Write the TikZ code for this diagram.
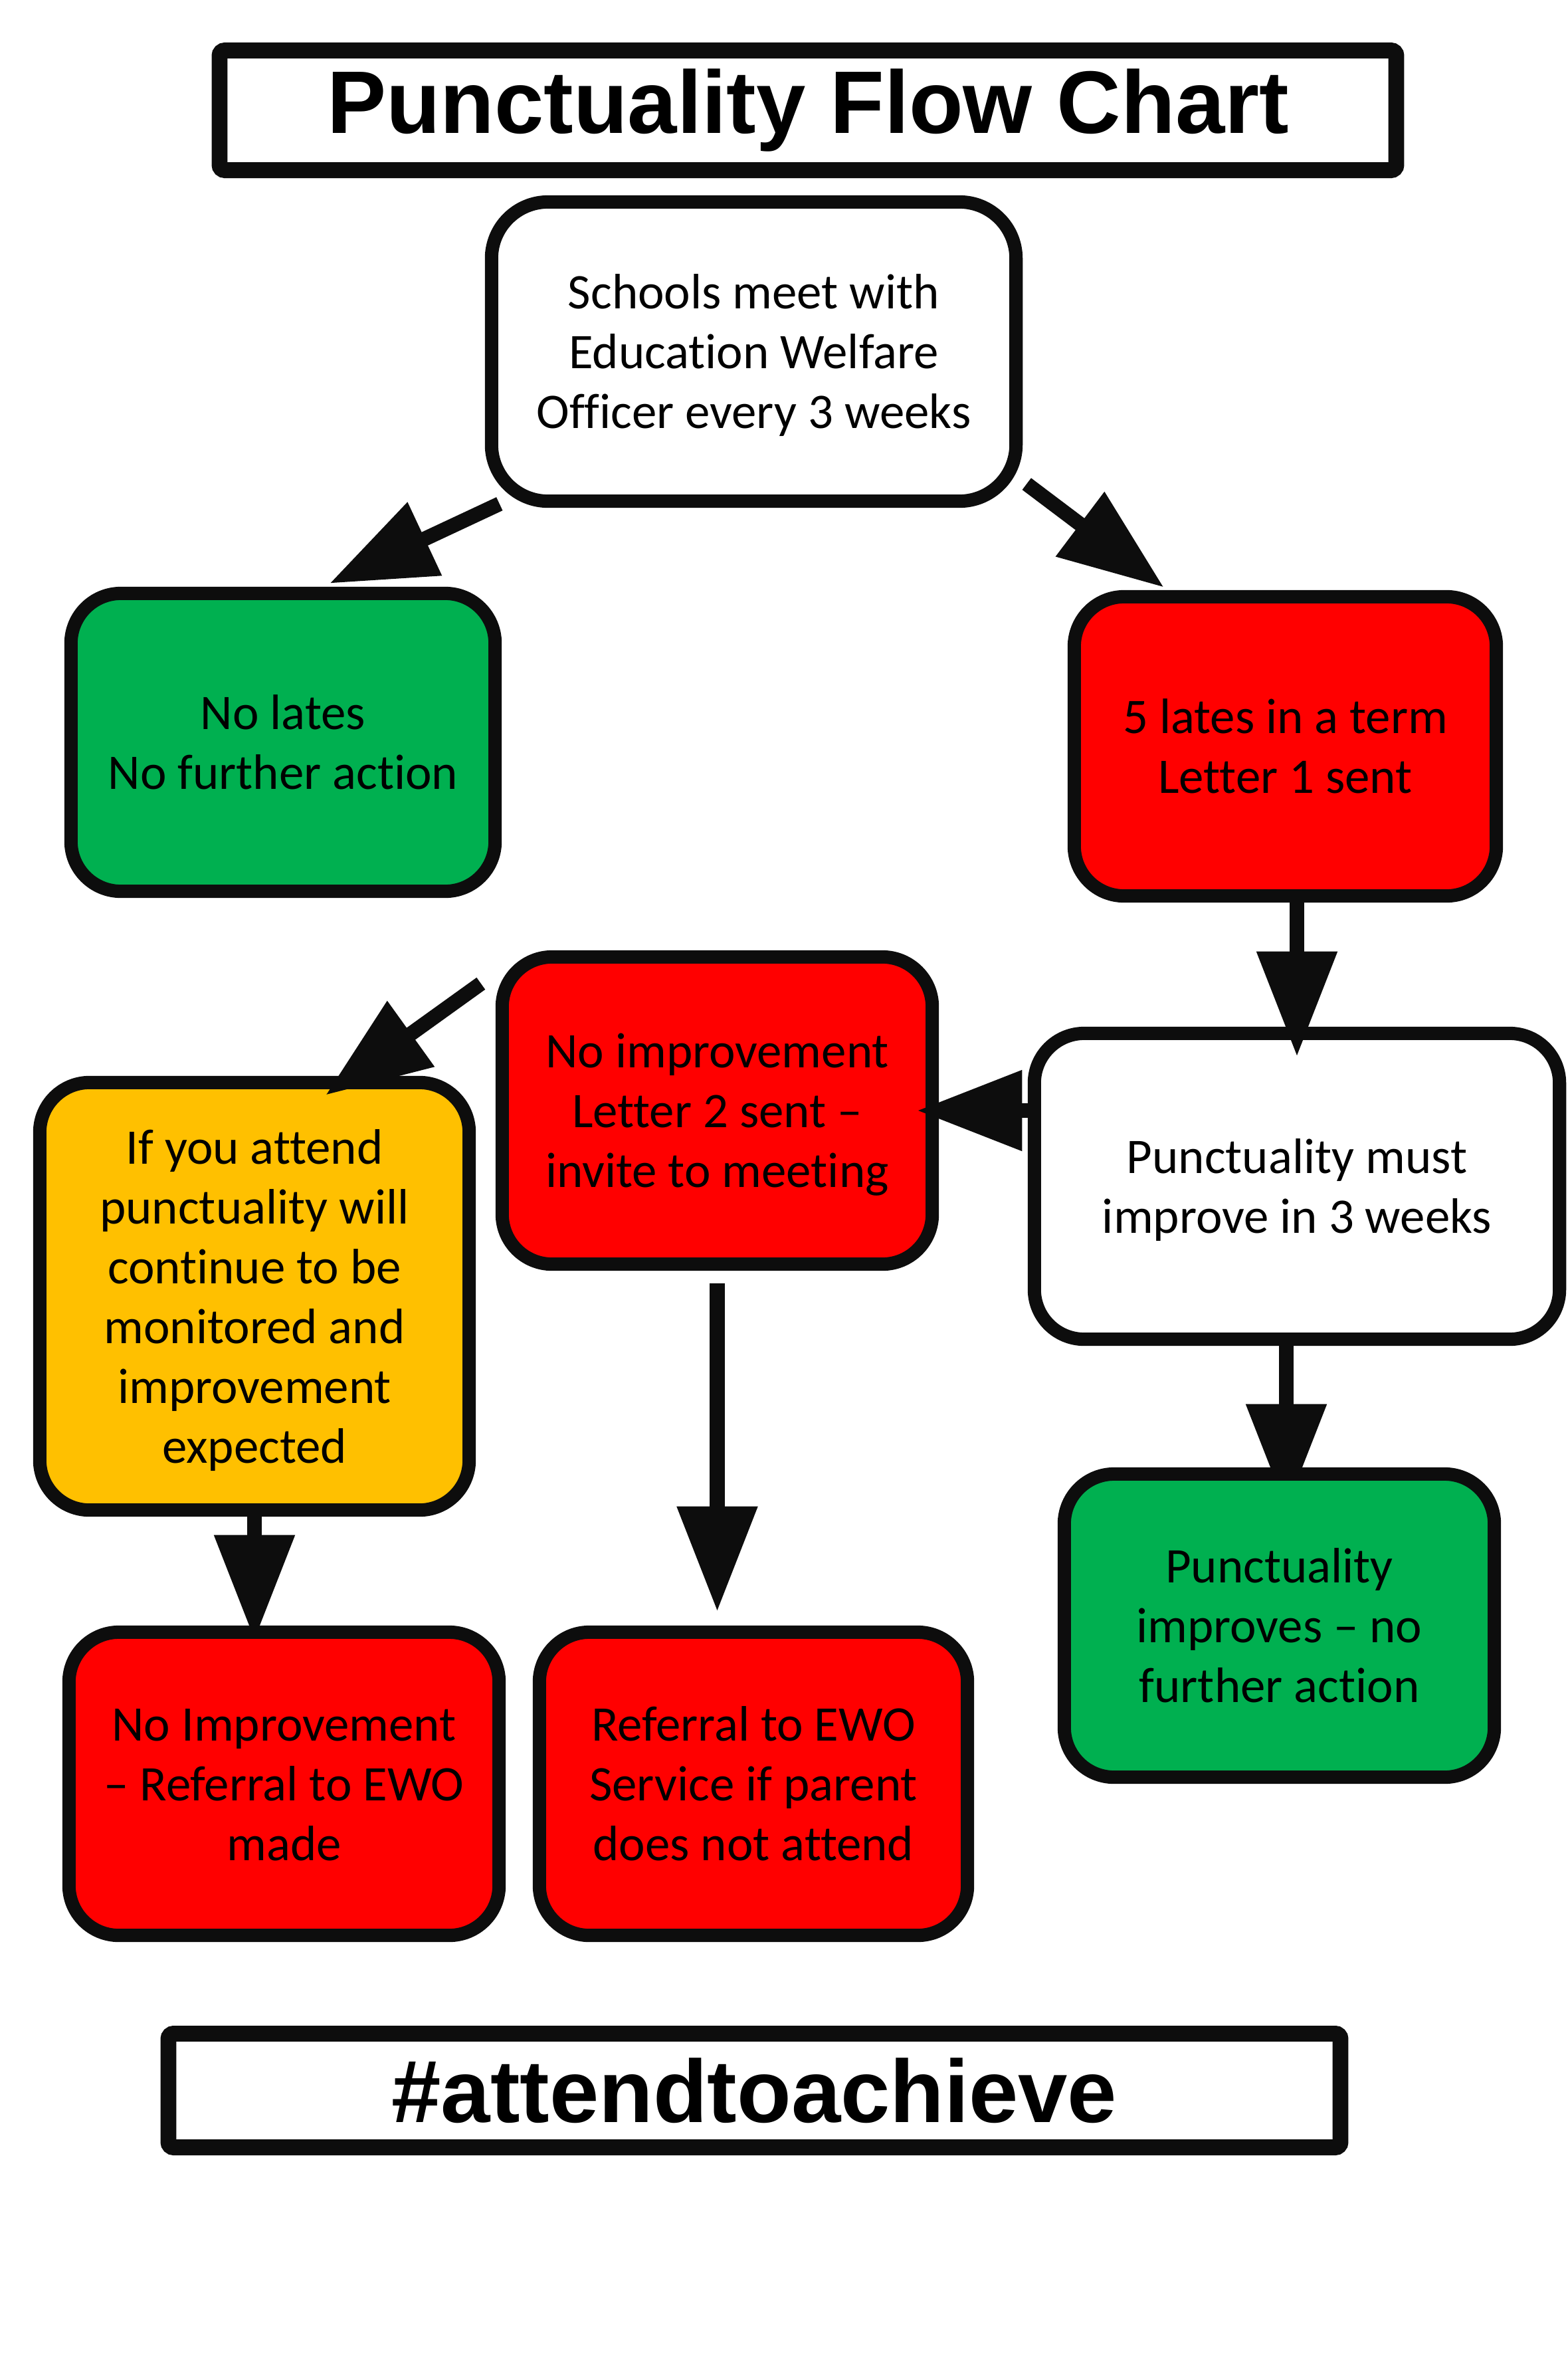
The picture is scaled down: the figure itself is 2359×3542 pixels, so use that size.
\documentclass[tikz,border=0pt]{standalone}
\usepackage{fontspec}
\setmainfont{Carlito}[Ligatures=NoCommon]
\newfontfamily\arialfont{Liberation Sans}
\usetikzlibrary{arrows.meta,calc,backgrounds}
\definecolor{bord}{HTML}{0D0D0D}
\definecolor{rd}{HTML}{FF0000}
\definecolor{gn}{HTML}{00B050}
\definecolor{yl}{HTML}{FFC000}
\newcommand\boxtxt[1]{\raisebox{-2.2pt}[\height][\depth]{\begin{tabular}{@{}c@{}}#1\end{tabular}}}
\tikzset{
  box/.style={draw=bord, line width=5.7pt, rounded corners=0.75cm, inner sep=0pt,
    outer sep=0pt, font=\fontsize{21.3}{25.6}\selectfont, text=black},
  hdr/.style={draw=bord, fill=white, line width=6.8pt, rounded corners=0.08cm, inner sep=0pt,
    outer sep=0pt, font=\arialfont\bfseries\fontsize{38}{44}\selectfont, text=black},
  arr/.style={draw=bord, line width=6.3pt, -{Triangle[length=45pt,width=33pt]}}
}
\begin{document}
\begin{tikzpicture}[x=0.01cm,y=-0.01cm]
\useasboundingbox (0,0) rectangle (2359,3542);

\node[hdr, minimum width=17.7cm, minimum height=1.8cm] (title) at (1216,166) {Punctuality Flow Chart};

\node[box, fill=white, minimum width=7.89cm, minimum height=4.5cm, rounded corners=0.85cm] (s1) at (1134.5,529)
  {\boxtxt{Schools meet with\\Education Welfare\\Officer every 3 weeks}};
\node[box, fill=gn, minimum width=6.38cm, minimum height=4.48cm] (lates) at (426,1117)
  {\boxtxt{No lates\\No further action}};
\node[box, fill=rd, minimum width=6.35cm, minimum height=4.5cm] (five) at (1934.5,1123)
  {\boxtxt{5 lates in a term\\Letter 1 sent}};
\node[box, fill=white, minimum width=7.9cm, minimum height=4.6cm] (pm) at (1952,1785)
  {\boxtxt{Punctuality must\\improve in 3 weeks}};
\node[box, fill=rd, minimum width=6.47cm, minimum height=4.62cm] (ni) at (1079.5,1671)
  {\boxtxt{No improvement\\Letter 2 sent --\\invite to meeting}};
\node[box, fill=yl, minimum width=6.46cm, minimum height=6.43cm] (yel) at (383,1950.5)
  {\boxtxt{If you attend\\punctuality will\\continue to be\\monitored and\\improvement\\expected}};
\node[box, fill=rd, minimum width=6.47cm, minimum height=4.56cm] (nie) at (427.5,2684)
  {\boxtxt{No Improvement\\-- Referral to EWO\\made}};
\node[box, fill=rd, minimum width=6.44cm, minimum height=4.56cm] (ref) at (1134,2684)
  {\boxtxt{Referral to EWO\\Service if parent\\does not attend}};
\node[box, fill=gn, minimum width=6.47cm, minimum height=4.56cm] (gr2) at (1925.5,2446)
  {\boxtxt{Punctuality\\improves -- no\\further action}};

\node[hdr, minimum width=17.63cm, minimum height=1.71cm] (tag) at (1135.5,3145.5) {\#attendtoachieve};

% connectors
\draw[arr] ($(s1.south west)+(12,4)$) -- ($(lates.north)+(70,-15)$);
\draw[arr] ($(s1.south east)+(16,-26)$) -- ($(five.north west)+(135,-14)$);
\draw[arr] (five.south -| pm.north) -- ($(pm.north)+(0,35)$);
\draw[arr] (ni.east -| pm.west) -- ($(ni.east)+(-23,0)$);
\draw[arr] ($(ni.north west)+(-32,40)$) -- ($(yel.north)+(107,19)$);
\draw[arr, shorten <=0.29cm] (ni.south) -- ($(ref.north -| ni.south)+(0,-31)$);
\begin{scope}[on background layer]
\draw[arr] ($(pm.south)+(-16,0)$) -- ($(gr2.north)+(10.5,53)$);
\draw[arr] (yel.south) -- ($(nie.north -| yel.south)+(0,12)$);
\end{scope}
\end{tikzpicture}
\end{document}
